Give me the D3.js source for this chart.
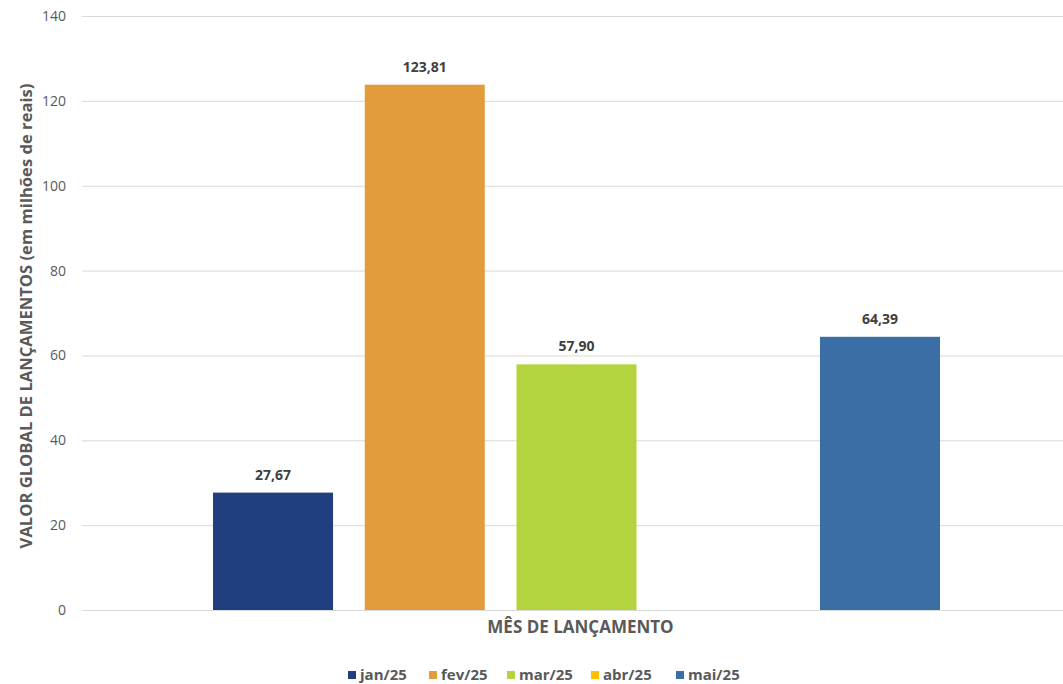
<html>
<head>
<meta charset="utf-8">
<style>
body { margin: 0; background: #fff; }
svg text { font-family: "Open Sans", "Liberation Sans", sans-serif; }
</style>
</head>
<body>
<svg width="1063" height="684"></svg>
<script src="https://cdn.jsdelivr.net/npm/d3@7"></script>
<script>
// data
const group = ["MÊS DE LANÇAMENTO"];
const months = ["jan/25", "fev/25", "mar/25", "abr/25", "mai/25"];
const values = [27.67, 123.81, 57.90, 0, 64.39];
const colors = ["#213f7e", "#e29c3b", "#b3d43f", "#ffc000", "#3a6ea5"];
const yTicks = [0, 20, 40, 60, 80, 100, 120, 140];

const svg = d3.select("svg");
const plotL = 82, plotR = 1071, plotT = 16, plotB = 610;

const x0 = d3.scaleBand().domain(group).range([plotL, plotR]).padding(0.1527);
const x1 = d3.scaleBand().domain(months).range([0, x0.bandwidth()]).paddingInner(0.209).paddingOuter(0);
const y = d3.scaleLinear().domain([0, 140]).range([plotB, plotT]);

// grid + y labels
const yAxis = d3.axisLeft(y).tickValues(yTicks).tickSize(-(plotR - plotL)).tickPadding(16);
const ga = svg.append("g").attr("transform", `translate(${plotL},0)`).call(yAxis);
ga.select(".domain").remove();
ga.selectAll(".tick line").attr("stroke", "#d9d9d9").attr("stroke-width", 1);
ga.selectAll(".tick text").attr("fill", "#595959").style("font-size", "14px");

// bars
const g = svg.append("g").attr("transform", `translate(${x0(group[0])},0)`);
months.forEach(function(m, i) {
  if (values[i] <= 0) return;
  g.append("rect")
    .attr("x", x1(m))
    .attr("y", y(values[i]))
    .attr("width", x1.bandwidth())
    .attr("height", y(0) - y(values[i]))
    .attr("fill", colors[i]);
  g.append("text")
    .attr("x", x1(m) + x1.bandwidth() / 2)
    .attr("y", y(values[i]) - 13)
    .attr("text-anchor", "middle")
    .attr("fill", "#404040")
    .style("font-size", "14px")
    .style("font-weight", "bold")
    .text(values[i].toFixed(2).replace(".", ","));
});

// axis titles
svg.append("text")
  .attr("x", x0(group[0]) + x0.bandwidth() / 2 + 4)
  .attr("y", 633)
  .attr("text-anchor", "middle")
  .attr("fill", "#595959")
  .style("font-size", "17px")
  .style("font-weight", "bold")
  .text(group[0]);

svg.append("text")
  .attr("transform", "translate(32,316) rotate(-90)")
  .attr("text-anchor", "middle")
  .attr("fill", "#595959")
  .style("font-size", "16.6px")
  .style("font-weight", "bold")
  .text("VALOR GLOBAL DE LANÇAMENTOS (em milhões de reais)");

// legend
const legendX = [348, 429, 507, 591, 676];
const lg = svg.append("g");
months.forEach(function(m, i) {
  lg.append("rect").attr("x", legendX[i]).attr("y", 671).attr("width", 8).attr("height", 8).attr("fill", colors[i]);
  lg.append("text").attr("x", legendX[i] + 12).attr("y", 680)
    .attr("fill", "#595959").style("font-size", "15px").style("font-weight", "bold").text(m);
});
</script>
</body>
</html>
